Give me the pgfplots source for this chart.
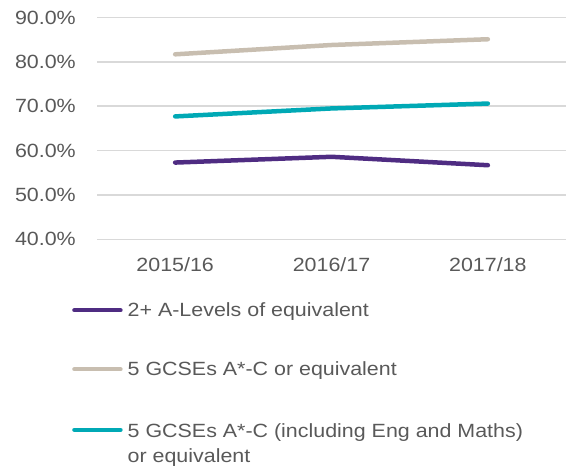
\documentclass[border=0pt]{standalone}
\usepackage{fontspec}
\setmainfont[FakeStretch=1.12]{Liberation Sans}
\usepackage{pgfplots}
\pgfplotsset{compat=1.18}
\definecolor{cpurple}{HTML}{4F2C82}
\definecolor{cbeige}{HTML}{C8BEB0}
\definecolor{cteal}{HTML}{00A9B5}
\definecolor{ctext}{HTML}{595959}
\definecolor{cgrid}{HTML}{D9D9D9}
\newcommand\lstrut{\rule[-5bp]{0pt}{19bp}}
\begin{document}
\begin{tikzpicture}
\path[use as bounding box] (0,0) rectangle (566bp,469bp);
\begin{axis}[
  at={(97bp,229.7bp)}, anchor=south west,
  scale only axis, width=469bp, height=221.8bp,
  xmin=-0.5, xmax=2.5, ymin=40, ymax=90,
  xtick={0,1,2}, xticklabels={2015/16,2016/17,2017/18},
  ytick={40,50,60,70,80,90},
  /pgf/number format/assume math mode=true,
  yticklabel={\pgfmathprintnumber[fixed,fixed zerofill,precision=1]{\tick}\%},
  ymajorgrids, grid style={cgrid, line width=1.5bp},
  axis line style={draw=none}, major tick length=0pt,
  tick label style={font=\fontsize{19.2}{23}\selectfont, text=ctext},
  yticklabel style={inner sep=0pt, xshift=-21bp},
  xticklabel style={inner sep=0pt, yshift=-18bp},
  every axis plot/.append style={line width=4.5bp, line cap=round, line join=round},
  legend image code/.code={\draw[#1, line width=4.5bp, line cap=round] (0bp,0bp) -- (46bp,0bp);},
  legend cell align=left,
  legend style={at={(0,0)}, anchor=north west, xshift=-25bp, yshift=-61bp,
    draw=none, fill=none, inner sep=0pt, row sep=39.5bp, column sep=3bp,
    font=\fontsize{19.2}{25}\selectfont, text=ctext},
]
\addplot[cpurple] coordinates {(0,57.3) (1,58.6) (2,56.7)};
\addlegendentry{\lstrut 2+ A-Levels of equivalent}
\addplot[cbeige] coordinates {(0,81.7) (1,83.8) (2,85.1)};
\addlegendentry{\lstrut 5 GCSEs A*-C or equivalent}
\addplot[cteal] coordinates {(0,67.7) (1,69.5) (2,70.6)};
\addlegendentry{\begin{tabular}[t]{@{}l@{}}\lstrut 5 GCSEs A*-C (including Eng and Maths)\\or equivalent\end{tabular}}
\end{axis}
\end{tikzpicture}
\end{document}
